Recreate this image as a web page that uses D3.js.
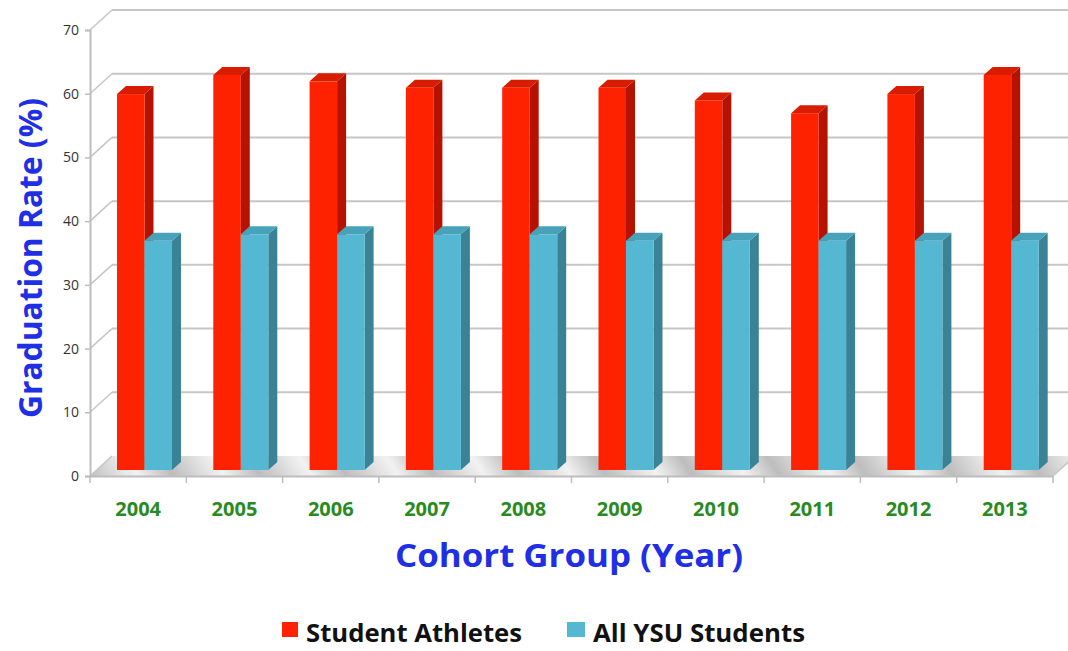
<!DOCTYPE html>
<html>
<head>
<meta charset="utf-8">
<script src="https://cdn.jsdelivr.net/npm/d3@7"></script>
<style>
  body { margin: 0; background: #fff; }
  text { font-family: "Open Sans", sans-serif; }
</style>
</head>
<body>
<div id="chart"></div>
<script>
let years = ["2004", "2005", "2006", "2007", "2008", "2009", "2010", "2011", "2012", "2013"];
let athletes = [59, 62, 61, 60, 60, 60, 58, 56, 59, 62];
let allStudents = [36, 37, 37, 37, 37, 36, 36, 36, 36, 36];
let seriesNames = ["Student Athletes", "All YSU Students"];
let yTicks = [0, 10, 20, 30, 40, 50, 60, 70];

let w = 1068;
let h = 651;

// 3d look: back wall offset, bar offset and bar depth
let depthX = 22, depthY = -20;
let barOffX = 6, barOffY = -6;
let barDX = 9, barDY = -8;

let colors = [
    {front: "#ff2200", side: "#b51200", top: "#d81c00"},
    {front: "#54b8d2", side: "#3a8397", top: "#47a2ba"}
];

let svg = d3.select("#chart")
    .append("svg")
    .attr("width", w)
    .attr("height", h);

let xScale = d3.scaleBand().domain(years).range([90, 1053]);
let xSub = d3.scaleBand().domain(seriesNames).range([21, 76]);
let yScale = d3.scaleLinear().domain([0, 70]).range([476, 30]);

let defs = svg.append("defs");
let floorGrad = defs.append("linearGradient")
    .attr("id", "floorGrad")
    .attr("gradientUnits", "userSpaceOnUse")
    .attr("x1", 0).attr("y1", 476).attr("x2", 60).attr("y2", 436)
    .attr("spreadMethod", "repeat");
floorGrad.append("stop").attr("offset", "0%").attr("stop-color", "#bdbdbd");
floorGrad.append("stop").attr("offset", "45%").attr("stop-color", "#e6e6e6");
floorGrad.append("stop").attr("offset", "60%").attr("stop-color", "#f2f2f2");
floorGrad.append("stop").attr("offset", "100%").attr("stop-color", "#bdbdbd");

let x0 = xScale.range()[0], x1 = xScale.range()[1];
let y0 = yScale(0);

// floor
svg.append("path")
    .attr("d", "M" + x0 + "," + y0 + "L" + x1 + "," + y0 +
        "L" + (x1 + depthX) + "," + (y0 + depthY) + "L" + (x0 + depthX) + "," + (y0 + depthY) + "Z")
    .attr("fill", "url(#floorGrad)");

// back wall gridlines
svg.selectAll(".grid").data(yTicks.filter(d => d > 0)).enter()
    .append("line")
    .attr("x1", x0 + depthX)
    .attr("x2", x1 + depthX)
    .attr("y1", d => yScale(d) + depthY)
    .attr("y2", d => yScale(d) + depthY)
    .attr("stroke", "#c6c6c6")
    .attr("stroke-width", 2);

// side wall diagonals
svg.selectAll(".diag").data(yTicks).enter()
    .append("line")
    .attr("x1", x0)
    .attr("y1", d => yScale(d))
    .attr("x2", x0 + depthX)
    .attr("y2", d => yScale(d) + depthY)
    .attr("stroke", "#c6c6c6")
    .attr("stroke-width", 1.5);

// y axis
let yAxis = d3.axisLeft(yScale).tickValues(yTicks).tickSize(5).tickPadding(6);
let yAxisGroup = svg.append("g")
    .attr("transform", "translate(" + x0 + ",0)")
    .call(yAxis);
yAxisGroup.select(".domain").attr("stroke", "#bdbdbd").attr("stroke-width", 2);
yAxisGroup.selectAll(".tick line").attr("stroke", "#bdbdbd").attr("stroke-width", 1.5);
yAxisGroup.selectAll(".tick text")
    .attr("font-family", "Open Sans, sans-serif")
    .attr("font-size", 14)
    .attr("fill", "#333");

// bars
let barData = [];
years.forEach(function (yr, i) {
    barData.push({year: yr, s: 0, v: athletes[i]});
    barData.push({year: yr, s: 1, v: allStudents[i]});
});

let bars = svg.selectAll(".bar").data(barData).enter()
    .append("g")
    .attr("class", "bar");

function frontX(d) { return xScale(d.year) + xSub(seriesNames[d.s]) + barOffX; }
let bw = xSub.bandwidth();

bars.append("path")
    .attr("d", function (d) {
        let x = frontX(d) + bw, yb = yScale(0) + barOffY, yt = yScale(d.v) + barOffY;
        return "M" + x + "," + yb + "L" + x + "," + yt + "L" + (x + barDX) + "," + (yt + barDY) +
            "L" + (x + barDX) + "," + (yb + barDY) + "Z";
    })
    .attr("fill", d => colors[d.s].side);

bars.append("path")
    .attr("d", function (d) {
        let x = frontX(d), yt = yScale(d.v) + barOffY;
        return "M" + x + "," + yt + "L" + (x + bw) + "," + yt + "L" + (x + bw + barDX) + "," + (yt + barDY) +
            "L" + (x + barDX) + "," + (yt + barDY) + "Z";
    })
    .attr("fill", d => colors[d.s].top);

bars.append("rect")
    .attr("x", frontX)
    .attr("y", d => yScale(d.v) + barOffY)
    .attr("width", bw)
    .attr("height", d => yScale(0) - yScale(d.v))
    .attr("fill", d => colors[d.s].front);

// x axis
let xAxis = d3.axisBottom(xScale).tickSize(0).tickPadding(26);
let xAxisGroup = svg.append("g")
    .attr("transform", "translate(0," + y0 + ")")
    .call(xAxis);
xAxisGroup.select(".domain").attr("stroke", "#bdbdbd").attr("stroke-width", 2);
xAxisGroup.selectAll(".tick text")
    .attr("font-family", "Open Sans, sans-serif")
    .attr("font-weight", "bold")
    .attr("font-size", 20)
    .attr("fill", "#2a8a22");

// band separator ticks
svg.selectAll(".sep").data(years.concat(["end"])).enter()
    .append("line")
    .attr("x1", (d, i) => x0 + i * xScale.step())
    .attr("x2", (d, i) => x0 + i * xScale.step())
    .attr("y1", y0)
    .attr("y2", y0 + 7)
    .attr("stroke", "#bdbdbd")
    .attr("stroke-width", 1.5);
svg.append("line")
    .attr("x1", x1).attr("y1", y0)
    .attr("x2", x1 + depthX).attr("y2", y0 + depthY)
    .attr("stroke", "#c6c6c6").attr("stroke-width", 1.5);

// titles
svg.append("text")
    .attr("transform", "translate(42,258) rotate(-90)")
    .attr("text-anchor", "middle")
    .attr("font-weight", "bold")
    .attr("font-size", 33)
    .attr("textLength", 320)
    .attr("lengthAdjust", "spacingAndGlyphs")
    .attr("fill", "#1f2fe6")
    .text("Graduation Rate (%)");

svg.append("text")
    .attr("x", 569)
    .attr("y", 567)
    .attr("text-anchor", "middle")
    .attr("font-weight", "bold")
    .attr("font-size", 32)
    .attr("textLength", 348)
    .attr("lengthAdjust", "spacingAndGlyphs")
    .attr("fill", "#1f2fe6")
    .text("Cohort Group (Year)");

// legend
let legendX = [282, 567];
let legendW = [216, 212];
let legend = svg.selectAll(".legend").data(seriesNames).enter()
    .append("g")
    .attr("class", "legend")
    .attr("transform", (d, i) => "translate(" + legendX[i] + ",622)");
legend.append("rect")
    .attr("width", (d, i) => i == 0 ? 16 : 18).attr("height", 15)
    .attr("fill", (d, i) => colors[i].front);
legend.append("text")
    .attr("x", (d, i) => i == 0 ? 24 : 26)
    .attr("y", 20)
    .attr("font-weight", "bold")
    .attr("font-size", 25)
    .attr("textLength", (d, i) => legendW[i])
    .attr("lengthAdjust", "spacingAndGlyphs")
    .attr("fill", "#111")
    .text(d => d);
</script>
</body>
</html>
